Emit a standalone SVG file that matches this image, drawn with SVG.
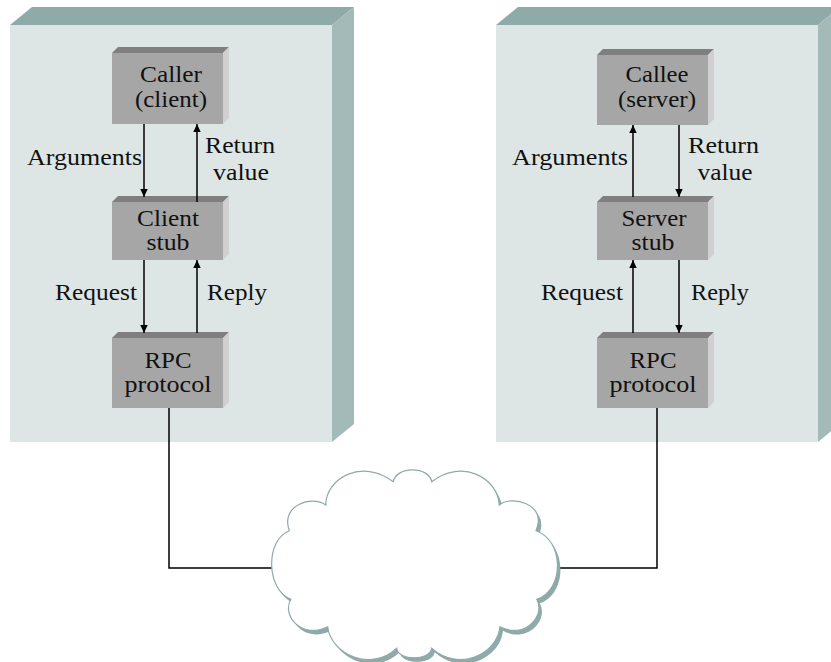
<svg xmlns="http://www.w3.org/2000/svg" width="831" height="662" viewBox="0 0 831 662">
<defs>
<style>
.pf{fill:#dde6e5}
.pt{fill:#8eaaa9}
.ps{fill:#a3bab8}
.bf{fill:#a6a6a6}
.bt{fill:#7f7f7f}
.bs{fill:#d0d0d0}
text{font-family:"Liberation Serif","Times New Roman",serif;font-size:23px;fill:#111}
.m{text-anchor:middle}
.e{text-anchor:end}
.ar{stroke:#000;stroke-width:1.5;fill:none;marker-end:url(#ah)}
.ln{stroke:#000;stroke-width:1.5;fill:none}
</style>
<marker id="ah" markerUnits="userSpaceOnUse" markerWidth="8" markerHeight="12" viewBox="0 0 8 12" refX="8" refY="6" orient="auto">
<path d="M0,2.3 L8,6 L0,9.7 z" fill="#000"/>
</marker>
</defs>

<g id="client-host">
<polygon class="pt" points="10,25 32,7 354,7 332,25"/>
<polygon class="ps" points="332,25 354,7 354,424 332,442"/>
<rect class="pf" x="10" y="25" width="322" height="417"/>
</g>
<g id="server-host">
<polygon class="pt" points="496,25 518,7 840,7 818,25"/>
<polygon class="ps" points="818,25 840,7 840,424 818,442"/>
<rect class="pf" x="496" y="25" width="322" height="417"/>
</g>

<g id="caller">
<polygon class="bt" points="112,53 118,47 229,47 223,53"/>
<polygon class="bs" points="223,53 229,47 229,118 223,124"/>
<rect class="bf" x="112" y="53" width="111" height="71"/>
<text class="m" x="171" y="82" textLength="62" lengthAdjust="spacingAndGlyphs">Caller</text>
<text class="m" x="171" y="107" textLength="72" lengthAdjust="spacingAndGlyphs">(client)</text>
</g>
<g id="client-stub">
<polygon class="bt" points="112,202 118,196 229,196 223,202"/>
<polygon class="bs" points="223,202 229,196 229,254 223,260"/>
<rect class="bf" x="112" y="202" width="111" height="58"/>
<text class="m" x="168" y="226" textLength="62" lengthAdjust="spacingAndGlyphs">Client</text>
<text class="m" x="168" y="250" textLength="43" lengthAdjust="spacingAndGlyphs">stub</text>
</g>
<g id="client-rpc">
<polygon class="bt" points="112,338 118,332 229,332 223,338"/>
<polygon class="bs" points="223,338 229,332 229,402 223,408"/>
<rect class="bf" x="112" y="338" width="111" height="70"/>
<text class="m" x="168" y="368" textLength="47" lengthAdjust="spacingAndGlyphs">RPC</text>
<text class="m" x="168" y="392" textLength="87" lengthAdjust="spacingAndGlyphs">protocol</text>
</g>

<g id="callee">
<polygon class="bt" points="597,55 603,49 714,49 708,55"/>
<polygon class="bs" points="708,55 714,49 714,119 708,125"/>
<rect class="bf" x="597" y="55" width="111" height="70"/>
<text class="m" x="657" y="82" textLength="63" lengthAdjust="spacingAndGlyphs">Callee</text>
<text class="m" x="657" y="107" textLength="78" lengthAdjust="spacingAndGlyphs">(server)</text>
</g>
<g id="server-stub">
<polygon class="bt" points="597,202 603,196 714,196 708,202"/>
<polygon class="bs" points="708,202 714,196 714,254 708,260"/>
<rect class="bf" x="597" y="202" width="111" height="58"/>
<text class="m" x="654" y="226" textLength="65" lengthAdjust="spacingAndGlyphs">Server</text>
<text class="m" x="653" y="250" textLength="43" lengthAdjust="spacingAndGlyphs">stub</text>
</g>
<g id="server-rpc">
<polygon class="bt" points="597,338 603,332 714,332 708,338"/>
<polygon class="bs" points="708,338 714,332 714,402 708,408"/>
<rect class="bf" x="597" y="338" width="111" height="70"/>
<text class="m" x="653" y="368" textLength="47" lengthAdjust="spacingAndGlyphs">RPC</text>
<text class="m" x="653" y="392" textLength="87" lengthAdjust="spacingAndGlyphs">protocol</text>
</g>

<g id="connectors">
<path class="ln" d="M169,408 V568 H290"/>
<path class="ln" d="M657,408 V568 H540"/>
<path class="ar" d="M144,124 V197"/>
<path class="ar" d="M197,202 V124"/>
<path class="ar" d="M144,260 V333"/>
<path class="ar" d="M197,333 V260"/>
<path class="ar" d="M633,197 V125"/>
<path class="ar" d="M679,125 V197"/>
<path class="ar" d="M633,333 V260"/>
<path class="ar" d="M679,260 V333"/>
</g>

<g id="labels">
<text class="e" x="142" y="165" textLength="115" lengthAdjust="spacingAndGlyphs">Arguments</text>
<text x="205" y="153" textLength="70" lengthAdjust="spacingAndGlyphs">Return</text>
<text class="m" x="241" y="180" textLength="56" lengthAdjust="spacingAndGlyphs">value</text>
<text class="e" x="137" y="300" textLength="82" lengthAdjust="spacingAndGlyphs">Request</text>
<text x="207" y="300" textLength="60" lengthAdjust="spacingAndGlyphs">Reply</text>
<text class="e" x="628" y="165" textLength="116" lengthAdjust="spacingAndGlyphs">Arguments</text>
<text x="688" y="153" textLength="71" lengthAdjust="spacingAndGlyphs">Return</text>
<text class="m" x="725" y="180" textLength="55" lengthAdjust="spacingAndGlyphs">value</text>
<text class="e" x="623" y="300" textLength="82" lengthAdjust="spacingAndGlyphs">Request</text>
<text x="691" y="300" textLength="58" lengthAdjust="spacingAndGlyphs">Reply</text>
</g>

<g id="network">
<defs>
<path id="cloud" d="M325.7,505 C326,478 362,458 393.3,481.7 C396,466 429,466 431.7,481.7 C462,458 498,478 499.3,505 C510,495 548,503 536,530.7 C564,540 565,590 536.7,599.3 C546,615 525,640 500,626.7 C497,655 458,672 431.7,648.3 C430,661 398,661 396.7,648.3 C372,672 331,655 327.7,626.7 C302,640 281,615 291,599.3 C266,590 265,540 289.3,530.7 C280,505 312,495 325.7,505 Z"/>
</defs>
<use href="#cloud" transform="translate(3,4)" fill="#8eaaa9"/>
<use href="#cloud" fill="#fff" stroke="#8eaaa9" stroke-width="1.2"/>
</g>
</svg>
